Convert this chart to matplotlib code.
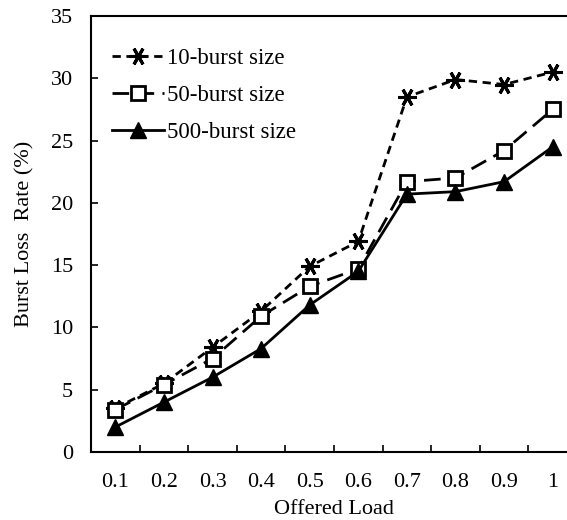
import matplotlib.pyplot as plt
from matplotlib.ticker import FixedLocator, NullFormatter

plt.rcParams['font.family'] = ['Liberation Serif', 'DejaVu Serif']

loads = ['0.1', '0.2', '0.3', '0.4', '0.5', '0.6', '0.7', '0.8', '0.9', '1']
burst10 = [3.5, 5.5, 8.4, 11.3, 14.9, 16.9, 28.5, 29.9, 29.5, 30.5]
burst50 = [3.4, 5.4, 7.5, 10.9, 13.3, 14.7, 21.7, 22.0, 24.2, 27.5]
burst500 = [2.0, 4.0, 6.0, 8.3, 11.8, 14.5, 20.7, 20.9, 21.7, 24.5]

fs = 16

fig = plt.figure(figsize=(5.67, 5.2), dpi=100)
# right edge of the plot area lies past the picture, as in the original crop
ax = fig.add_axes([91 / 567, 68 / 520, 486 / 567, 436 / 520])

x = list(range(len(loads)))
ax.plot(x, burst10, color='black', lw=2, dashes=(3, 2), marker=(6, 2, 90),
        ms=13, mew=2.2, label='10-burst size')
ax.plot(x, burst50, color='black', lw=2, dashes=(6, 3), marker='s',
        ms=10, mfc='white', mew=2, label='50-burst size')
ax.plot(x, burst500, color='black', lw=2, marker='^', ms=11,
        label='500-burst size')

ax.set_xlim(-0.5, len(loads) - 0.5)
ax.set_ylim(0, 35)
ax.set_yticks(range(0, 36, 5))
ax.set_xticks(x)
ax.set_xticklabels(loads)
ax.xaxis.set_minor_locator(FixedLocator([i + 0.5 for i in x[:-1]]))
ax.xaxis.set_minor_formatter(NullFormatter())
ax.tick_params(axis='x', which='major', length=0, pad=15, labelsize=fs)
ax.tick_params(axis='x', which='minor', direction='in', length=5, width=1.2)
ax.tick_params(axis='y', direction='in', length=5, width=1.2, pad=13, labelsize=fs)

for s in ['left', 'bottom', 'top', 'right']:
    ax.spines[s].set_linewidth(1.5)

ax.set_xlabel('Offered Load', fontsize=fs, labelpad=6)
ax.set_ylabel('Burst Loss  Rate (%)', fontsize=fs, labelpad=12)

ax.legend(loc='upper left', frameon=False, fontsize=fs + 0.5, labelspacing=0.7,
          handlelength=2.3, handletextpad=0.1, borderaxespad=0.5,
          bbox_to_anchor=(0.0, 0.975))

fig.savefig('out.png', dpi=100)
